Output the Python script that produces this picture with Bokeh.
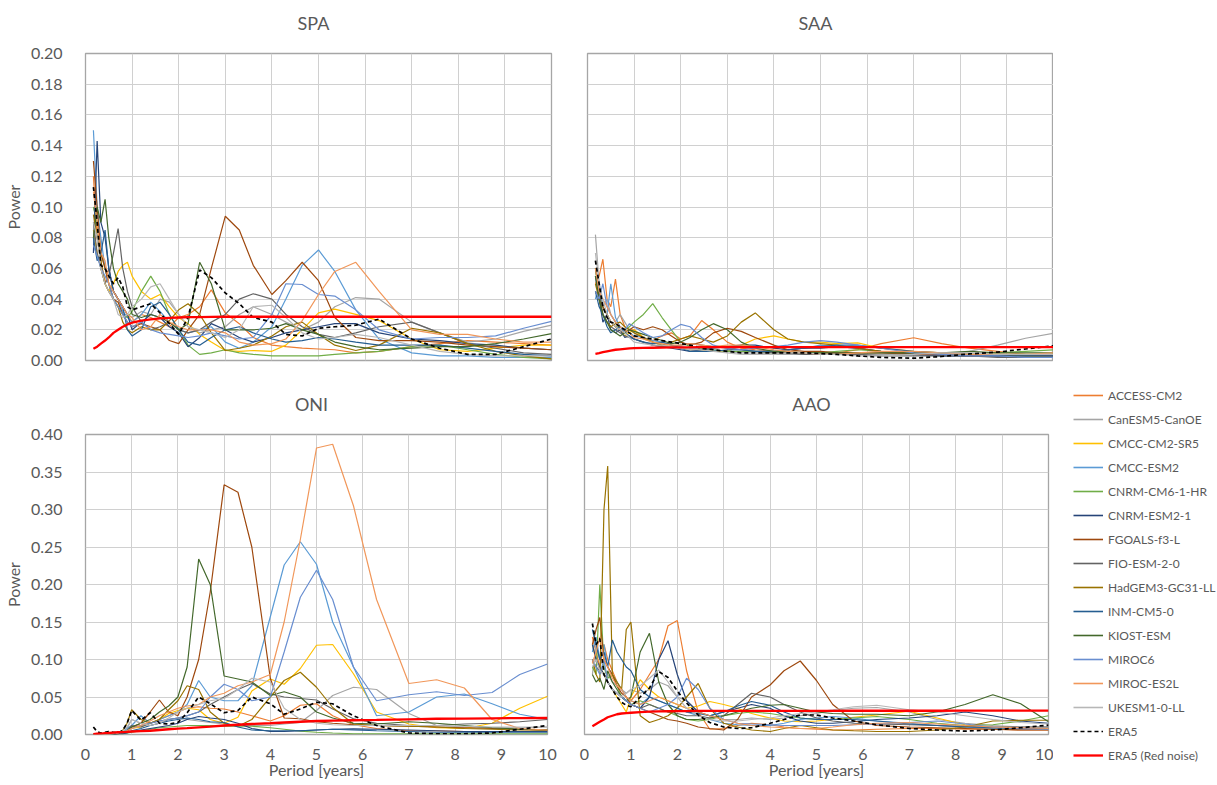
from bokeh.plotting import figure
from bokeh.models import Range1d, FixedTicker, NumeralTickFormatter, Legend, LegendItem
from bokeh.core.properties import value
from bokeh.layouts import row, column
from bokeh.embed import file_html
from bokeh.resources import INLINE

# ---------------- data ----------------
PERIOD = [0.17, 0.25, 0.33, 0.42, 0.5, 0.6, 0.7, 0.8, 0.9, 1.0,
          1.2, 1.4, 1.6, 1.8, 2.0, 2.2, 2.45, 2.7, 3.0, 3.3, 3.6,
          4.0, 4.3, 4.65, 5.0, 5.35, 5.8, 6.3, 7.0, 7.6, 8.2, 8.8, 9.4, 10.0]

MODELS = ["ACCESS-CM2", "CanESM5-CanOE", "CMCC-CM2-SR5", "CMCC-ESM2", "CNRM-CM6-1-HR",
          "CNRM-ESM2-1", "FGOALS-f3-L", "FIO-ESM-2-0", "HadGEM3-GC31-LL", "INM-CM5-0",
          "KIOST-ESM", "MIROC6", "MIROC-ES2L", "UKESM1-0-LL"]
COLORS = ["#ED7D31", "#A5A5A5", "#FFC000", "#5B9BD5", "#70AD47",
          "#264478", "#9E480E", "#636363", "#997300", "#255E91",
          "#43682B", "#698ED0", "#F1975A", "#B7B7B7"]

TITLES_TOP = ["SPA", "SAA"]
TITLES_BOTTOM = ["ONI", "AAO"]
X_TICKS = [0, 1, 2, 3, 4, 5, 6, 7, 8, 9, 10]
Y_TICKS_TOP = [0.0, 0.02, 0.04, 0.06, 0.08, 0.10, 0.12, 0.14, 0.16, 0.18, 0.20]
Y_TICKS_BOTTOM = [0.0, 0.05, 0.10, 0.15, 0.20, 0.25, 0.30, 0.35, 0.40]

SPA = {
    "ACCESS-CM2": [0.12, 0.08, 0.065, 0.05, 0.06, 0.045, 0.04, 0.035, 0.03, 0.025, 0.03, 0.028, 0.025, 0.022, 0.028, 0.03, 0.035, 0.046, 0.031, 0.024, 0.015, 0.01, 0.009, 0.008, 0.0075, 0.007, 0.005, 0.006, 0.009, 0.011, 0.013, 0.012, 0.011, 0.01],
    "CanESM5-CanOE": [0.1, 0.09, 0.06, 0.05, 0.045, 0.04, 0.035, 0.03, 0.03, 0.028, 0.032, 0.03, 0.04, 0.038, 0.03, 0.022, 0.018, 0.02, 0.022, 0.03, 0.035, 0.03, 0.025, 0.02, 0.025, 0.035, 0.041, 0.04, 0.025, 0.018, 0.012, 0.014, 0.019, 0.023],
    "CMCC-CM2-SR5": [0.085, 0.07, 0.06, 0.05, 0.045, 0.05, 0.058, 0.062, 0.064, 0.055, 0.045, 0.04, 0.043, 0.035, 0.028, 0.024, 0.017, 0.012, 0.0065, 0.006, 0.0065, 0.006, 0.01, 0.02, 0.031, 0.0335, 0.03, 0.026, 0.014, 0.007, 0.006, 0.008, 0.01, 0.01],
    "MIROC6": [0.075, 0.068, 0.06, 0.055, 0.05, 0.04, 0.035, 0.03, 0.025, 0.022, 0.025, 0.02, 0.018, 0.017, 0.016, 0.015, 0.016, 0.018, 0.016, 0.014, 0.015, 0.03, 0.05, 0.0495, 0.043, 0.042, 0.033, 0.02, 0.014, 0.015, 0.015, 0.016, 0.021, 0.0255],
    "CNRM-CM6-1-HR": [0.1, 0.09, 0.07, 0.06, 0.05, 0.04, 0.035, 0.03, 0.028, 0.032, 0.045, 0.055, 0.045, 0.03, 0.02, 0.01, 0.004, 0.005, 0.007, 0.005, 0.004, 0.003, 0.003, 0.003, 0.003, 0.004, 0.005, 0.006, 0.009, 0.01, 0.007, 0.004, 0.002, 0.001],
    "CNRM-ESM2-1": [0.07, 0.143, 0.09, 0.08, 0.06, 0.045, 0.04, 0.035, 0.03, 0.02, 0.025, 0.03, 0.028, 0.022, 0.018, 0.009, 0.015, 0.024, 0.02, 0.015, 0.012, 0.015, 0.018, 0.02, 0.022, 0.024, 0.024, 0.018, 0.014, 0.013, 0.011, 0.01, 0.008, 0.007],
    "FGOALS-f3-L": [0.13, 0.1, 0.07, 0.06, 0.05, 0.04, 0.038, 0.03, 0.025, 0.022, 0.024, 0.022, 0.02, 0.013, 0.011, 0.02, 0.03, 0.06, 0.094, 0.085, 0.062, 0.043, 0.052, 0.064, 0.052, 0.028, 0.015, 0.013, 0.013, 0.012, 0.01, 0.009, 0.008, 0.007],
    "FIO-ESM-2-0": [0.09, 0.07, 0.06, 0.05, 0.055, 0.07, 0.086, 0.06, 0.045, 0.035, 0.025, 0.02, 0.022, 0.025, 0.02, 0.018, 0.02, 0.025, 0.03, 0.04, 0.0435, 0.04, 0.03, 0.022, 0.017, 0.015, 0.018, 0.022, 0.025, 0.018, 0.011, 0.008, 0.005, 0.004],
    "HadGEM3-GC31-LL": [0.095, 0.08, 0.065, 0.05, 0.045, 0.04, 0.035, 0.025, 0.02, 0.018, 0.022, 0.02, 0.02, 0.026, 0.033, 0.037, 0.03, 0.018, 0.0065, 0.008, 0.01, 0.016, 0.022, 0.025, 0.017, 0.01, 0.0065, 0.01, 0.021, 0.018, 0.011, 0.006, 0.003, 0.001],
    "INM-CM5-0": [0.08, 0.065, 0.07, 0.085, 0.06, 0.045, 0.04, 0.035, 0.02, 0.016, 0.02, 0.035, 0.038, 0.03, 0.02, 0.012, 0.01, 0.015, 0.02, 0.022, 0.018, 0.014, 0.012, 0.013, 0.015, 0.014, 0.012, 0.01, 0.01, 0.01, 0.008, 0.006, 0.004, 0.003],
    "KIOST-ESM": [0.08, 0.1, 0.09, 0.105, 0.08, 0.06, 0.05, 0.045, 0.04, 0.03, 0.028, 0.03, 0.028, 0.025, 0.02, 0.024, 0.064, 0.05, 0.02, 0.02, 0.02, 0.021, 0.024, 0.02, 0.017, 0.012, 0.009, 0.007, 0.008, 0.009, 0.009, 0.011, 0.014, 0.0175],
    "CMCC-ESM2": [0.15, 0.1, 0.08, 0.06, 0.05, 0.045, 0.04, 0.032, 0.028, 0.025, 0.03, 0.038, 0.032, 0.025, 0.02, 0.018, 0.02, 0.022, 0.012, 0.008, 0.012, 0.022, 0.04, 0.062, 0.072, 0.058, 0.033, 0.014, 0.005, 0.003, 0.003, 0.002, 0.002, 0.002],
    "MIROC-ES2L": [0.11, 0.09, 0.07, 0.065, 0.05, 0.045, 0.04, 0.035, 0.03, 0.028, 0.02, 0.022, 0.03, 0.025, 0.022, 0.02, 0.02, 0.02, 0.018, 0.012, 0.01, 0.011, 0.014, 0.026, 0.043, 0.058, 0.064, 0.045, 0.02, 0.017, 0.017, 0.014, 0.012, 0.012],
    "UKESM1-0-LL": [0.09, 0.08, 0.06, 0.05, 0.045, 0.04, 0.03, 0.028, 0.03, 0.035, 0.04, 0.048, 0.05, 0.04, 0.03, 0.022, 0.02, 0.018, 0.015, 0.02, 0.035, 0.036, 0.028, 0.018, 0.014, 0.015, 0.017, 0.015, 0.01, 0.006, 0.004, 0.003, 0.003, 0.003],
    "ERA5": [0.113, 0.09, 0.062, 0.06, 0.055, 0.05, 0.054, 0.048, 0.035, 0.033, 0.035, 0.037, 0.031, 0.024, 0.017, 0.028, 0.059, 0.054, 0.044, 0.037, 0.028, 0.025, 0.017, 0.016, 0.021, 0.022, 0.023, 0.027, 0.014, 0.008, 0.004, 0.004, 0.009, 0.014],
    "ERA5 (Red noise)": [0.0076, 0.009, 0.011, 0.013, 0.015, 0.018, 0.02, 0.022, 0.0235, 0.0246, 0.026, 0.0268, 0.0275, 0.0278, 0.028, 0.0282, 0.0283, 0.0284, 0.0285, 0.0285, 0.0285, 0.0285, 0.0285, 0.0285, 0.0285, 0.0285, 0.0285, 0.0285, 0.0285, 0.0285, 0.0285, 0.0285, 0.0285, 0.0285],
}

SAA = {
    "ACCESS-CM2": [0.05, 0.055, 0.066, 0.04, 0.035, 0.053, 0.03, 0.022, 0.02, 0.02, 0.015, 0.013, 0.016, 0.018, 0.014, 0.016, 0.026, 0.02, 0.012, 0.008, 0.007, 0.006, 0.005, 0.004, 0.004, 0.005, 0.007, 0.011, 0.0148, 0.011, 0.008, 0.006, 0.004, 0.003],
    "CanESM5-CanOE": [0.082, 0.05, 0.035, 0.04, 0.03, 0.025, 0.03, 0.025, 0.02, 0.018, 0.014, 0.012, 0.01, 0.009, 0.008, 0.007, 0.006, 0.006, 0.006, 0.005, 0.005, 0.004, 0.004, 0.004, 0.005, 0.005, 0.004, 0.004, 0.004, 0.004, 0.006, 0.01, 0.0145, 0.0178],
    "CMCC-CM2-SR5": [0.06, 0.045, 0.035, 0.03, 0.025, 0.022, 0.02, 0.016, 0.018, 0.02, 0.015, 0.012, 0.01, 0.009, 0.008, 0.007, 0.007, 0.006, 0.006, 0.01, 0.014, 0.016, 0.014, 0.012, 0.012, 0.011, 0.0115, 0.008, 0.006, 0.005, 0.004, 0.004, 0.004, 0.004],
    "CMCC-ESM2": [0.04, 0.05, 0.035, 0.03, 0.05, 0.028, 0.022, 0.02, 0.018, 0.016, 0.015, 0.013, 0.012, 0.01, 0.009, 0.008, 0.008, 0.007, 0.006, 0.006, 0.006, 0.006, 0.007, 0.008, 0.01, 0.009, 0.008, 0.006, 0.004, 0.003, 0.003, 0.003, 0.002, 0.002],
    "CNRM-CM6-1-HR": [0.06, 0.04, 0.035, 0.03, 0.025, 0.022, 0.022, 0.02, 0.022, 0.025, 0.03, 0.037, 0.028, 0.02, 0.012, 0.009, 0.008, 0.007, 0.006, 0.006, 0.006, 0.005, 0.005, 0.005, 0.005, 0.006, 0.007, 0.006, 0.005, 0.004, 0.004, 0.005, 0.006, 0.007],
    "CNRM-ESM2-1": [0.055, 0.04, 0.025, 0.03, 0.02, 0.018, 0.02, 0.015, 0.016, 0.014, 0.012, 0.01, 0.009, 0.008, 0.007, 0.006, 0.007, 0.008, 0.009, 0.01, 0.01, 0.008, 0.007, 0.008, 0.008, 0.009, 0.008, 0.006, 0.004, 0.003, 0.003, 0.003, 0.003, 0.003],
    "FGOALS-f3-L": [0.045, 0.04, 0.035, 0.03, 0.025, 0.022, 0.02, 0.018, 0.02, 0.022, 0.02, 0.022, 0.02, 0.016, 0.012, 0.01, 0.012, 0.018, 0.021, 0.019, 0.015, 0.01, 0.007, 0.006, 0.006, 0.005, 0.005, 0.005, 0.004, 0.004, 0.003, 0.003, 0.003, 0.003],
    "FIO-ESM-2-0": [0.06, 0.045, 0.03, 0.025, 0.022, 0.02, 0.018, 0.016, 0.015, 0.014, 0.012, 0.01, 0.009, 0.009, 0.01, 0.011, 0.01, 0.009, 0.008, 0.007, 0.006, 0.005, 0.005, 0.004, 0.004, 0.004, 0.004, 0.003, 0.003, 0.003, 0.003, 0.002, 0.002, 0.002],
    "HadGEM3-GC31-LL": [0.05, 0.04, 0.03, 0.025, 0.022, 0.024, 0.025, 0.022, 0.02, 0.018, 0.015, 0.012, 0.01, 0.012, 0.014, 0.016, 0.014, 0.012, 0.016, 0.025, 0.031, 0.02, 0.014, 0.012, 0.011, 0.01, 0.008, 0.006, 0.005, 0.005, 0.004, 0.004, 0.003, 0.002],
    "INM-CM5-0": [0.045, 0.035, 0.03, 0.022, 0.018, 0.02, 0.022, 0.018, 0.016, 0.014, 0.012, 0.011, 0.012, 0.01, 0.008, 0.006, 0.006, 0.006, 0.007, 0.007, 0.006, 0.006, 0.007, 0.008, 0.009, 0.01, 0.01, 0.008, 0.006, 0.005, 0.004, 0.003, 0.003, 0.003],
    "KIOST-ESM": [0.055, 0.04, 0.03, 0.025, 0.02, 0.018, 0.016, 0.018, 0.02, 0.019, 0.017, 0.015, 0.013, 0.011, 0.012, 0.015, 0.02, 0.024, 0.02, 0.012, 0.008, 0.006, 0.006, 0.005, 0.005, 0.005, 0.005, 0.005, 0.005, 0.005, 0.006, 0.005, 0.005, 0.005],
    "MIROC6": [0.045, 0.04, 0.05, 0.035, 0.03, 0.025, 0.022, 0.02, 0.024, 0.022, 0.018, 0.015, 0.016, 0.02, 0.0235, 0.022, 0.015, 0.01, 0.008, 0.007, 0.008, 0.009, 0.01, 0.012, 0.013, 0.012, 0.01, 0.008, 0.005, 0.004, 0.003, 0.003, 0.002, 0.002],
    "MIROC-ES2L": [0.06, 0.045, 0.04, 0.035, 0.03, 0.025, 0.022, 0.02, 0.018, 0.015, 0.014, 0.012, 0.011, 0.01, 0.01, 0.011, 0.01, 0.009, 0.01, 0.01, 0.009, 0.007, 0.006, 0.005, 0.004, 0.004, 0.005, 0.006, 0.006, 0.005, 0.004, 0.004, 0.004, 0.005],
    "UKESM1-0-LL": [0.07, 0.05, 0.04, 0.03, 0.025, 0.022, 0.02, 0.018, 0.015, 0.012, 0.011, 0.01, 0.01, 0.009, 0.008, 0.007, 0.007, 0.006, 0.005, 0.004, 0.004, 0.004, 0.005, 0.005, 0.004, 0.004, 0.003, 0.003, 0.004, 0.005, 0.005, 0.004, 0.004, 0.004],
    "ERA5": [0.065, 0.05, 0.035, 0.028, 0.025, 0.024, 0.022, 0.02, 0.018, 0.016, 0.015, 0.014, 0.013, 0.012, 0.011, 0.01, 0.008, 0.007, 0.006, 0.005, 0.005, 0.005, 0.005, 0.005, 0.0045, 0.004, 0.003, 0.002, 0.0015, 0.0026, 0.0043, 0.0055, 0.0075, 0.0095],
    "ERA5 (Red noise)": [0.0043, 0.0048, 0.0054, 0.006, 0.0065, 0.007, 0.0073, 0.0076, 0.0079, 0.008, 0.0082, 0.0083, 0.0084, 0.0085, 0.0086, 0.0086, 0.0087, 0.0087, 0.0087, 0.0087, 0.0087, 0.0087, 0.0087, 0.0087, 0.0087, 0.0087, 0.0087, 0.0087, 0.0087, 0.0087, 0.0087, 0.0087, 0.0087, 0.0087],
}

ONI = {
    "ACCESS-CM2": [0.001, 0.001, 0.001, 0.001, 0.001, 0.002, 0.002, 0.003, 0.005, 0.01, 0.012, 0.015, 0.02, 0.025, 0.03, 0.035, 0.037, 0.035, 0.034, 0.03, 0.025, 0.018, 0.025, 0.039, 0.041, 0.025, 0.013, 0.008, 0.005, 0.005, 0.004, 0.004, 0.004, 0.005],
    "CanESM5-CanOE": [0.001, 0.001, 0.001, 0.001, 0.001, 0.001, 0.002, 0.003, 0.008, 0.02, 0.015, 0.012, 0.015, 0.02, 0.022, 0.02, 0.018, 0.016, 0.014, 0.012, 0.012, 0.012, 0.014, 0.016, 0.032, 0.052, 0.063, 0.06, 0.028, 0.012, 0.01, 0.009, 0.009, 0.01],
    "CMCC-CM2-SR5": [0.0, 0.0, 0.0, 0.0, 0.001, 0.001, 0.002, 0.003, 0.005, 0.008, 0.01, 0.015, 0.02, 0.028, 0.032, 0.035, 0.033, 0.02, 0.015, 0.023, 0.058, 0.074, 0.067, 0.088, 0.119, 0.12, 0.081, 0.03, 0.014, 0.009, 0.008, 0.015, 0.035, 0.051],
    "MIROC6": [0.0, 0.0, 0.0, 0.0, 0.0, 0.001, 0.002, 0.003, 0.005, 0.008, 0.012, 0.015, 0.018, 0.02, 0.022, 0.025, 0.03, 0.05, 0.067, 0.06, 0.045, 0.05, 0.11, 0.183, 0.219, 0.18, 0.09, 0.045, 0.053, 0.057, 0.052, 0.056, 0.08, 0.094],
    "CNRM-CM6-1-HR": [0.0, 0.0, 0.0, 0.0, 0.0, 0.0, 0.001, 0.001, 0.002, 0.003, 0.005, 0.007, 0.009, 0.01, 0.011, 0.012, 0.012, 0.012, 0.011, 0.011, 0.011, 0.009, 0.007, 0.0045, 0.003, 0.002, 0.001, 0.001, 0.001, 0.001, 0.001, 0.001, 0.001, 0.001],
    "CNRM-ESM2-1": [0.0, 0.0, 0.0, 0.0, 0.0, 0.0, 0.001, 0.001, 0.002, 0.004, 0.006, 0.008, 0.01, 0.012, 0.015, 0.02, 0.024, 0.022, 0.02, 0.015, 0.008, 0.004, 0.004, 0.005, 0.006, 0.007, 0.0075, 0.007, 0.006, 0.005, 0.004, 0.004, 0.004, 0.004],
    "FGOALS-f3-L": [0.0, 0.0, 0.0, 0.0, 0.0, 0.001, 0.001, 0.002, 0.004, 0.01, 0.015, 0.03, 0.046, 0.03, 0.025, 0.05, 0.1, 0.19, 0.333, 0.323, 0.25, 0.075, 0.022, 0.021, 0.017, 0.015, 0.013, 0.012, 0.011, 0.01, 0.009, 0.008, 0.007, 0.006],
    "FIO-ESM-2-0": [0.0, 0.0, 0.0, 0.0, 0.0, 0.0, 0.001, 0.002, 0.005, 0.012, 0.01, 0.015, 0.018, 0.02, 0.022, 0.025, 0.03, 0.04, 0.05, 0.06, 0.068, 0.054, 0.05, 0.048, 0.046, 0.034, 0.021, 0.015, 0.012, 0.012, 0.014, 0.015, 0.017, 0.02],
    "HadGEM3-GC31-LL": [0.0, 0.0, 0.0, 0.0, 0.0, 0.001, 0.002, 0.005, 0.015, 0.033, 0.02, 0.015, 0.02, 0.033, 0.045, 0.065, 0.06, 0.03, 0.015, 0.011, 0.02, 0.05, 0.072, 0.083, 0.063, 0.036, 0.014, 0.012, 0.011, 0.01, 0.008, 0.007, 0.006, 0.006],
    "INM-CM5-0": [0.0, 0.0, 0.0, 0.0, 0.0, 0.001, 0.001, 0.002, 0.003, 0.005, 0.008, 0.012, 0.015, 0.018, 0.02, 0.022, 0.02, 0.017, 0.016, 0.01, 0.006, 0.005, 0.005, 0.005, 0.006, 0.007, 0.006, 0.005, 0.004, 0.003, 0.003, 0.003, 0.003, 0.003],
    "KIOST-ESM": [0.0, 0.0, 0.0, 0.0, 0.0, 0.001, 0.002, 0.003, 0.005, 0.01, 0.015, 0.02, 0.03, 0.038, 0.05, 0.09, 0.234, 0.2, 0.078, 0.074, 0.07, 0.052, 0.057, 0.05, 0.03, 0.022, 0.015, 0.014, 0.017, 0.015, 0.012, 0.009, 0.007, 0.006],
    "CMCC-ESM2": [0.0, 0.0, 0.0, 0.0, 0.0, 0.001, 0.002, 0.004, 0.008, 0.012, 0.025, 0.015, 0.02, 0.025, 0.03, 0.04, 0.072, 0.05, 0.045, 0.045, 0.065, 0.157, 0.226, 0.257, 0.227, 0.15, 0.09, 0.025, 0.03, 0.05, 0.054, 0.041, 0.027, 0.02],
    "MIROC-ES2L": [0.0, 0.0, 0.0, 0.0, 0.0, 0.001, 0.002, 0.003, 0.005, 0.008, 0.012, 0.018, 0.025, 0.03, 0.035, 0.038, 0.04, 0.05, 0.055, 0.065, 0.07, 0.08, 0.15, 0.26, 0.382, 0.387, 0.305, 0.18, 0.068, 0.073, 0.062, 0.02, 0.008, 0.006],
    "UKESM1-0-LL": [0.0, 0.0, 0.0, 0.0, 0.0, 0.001, 0.002, 0.004, 0.01, 0.02, 0.015, 0.012, 0.015, 0.022, 0.03, 0.035, 0.04, 0.045, 0.048, 0.06, 0.075, 0.07, 0.035, 0.02, 0.015, 0.013, 0.012, 0.012, 0.012, 0.012, 0.011, 0.01, 0.01, 0.01],
    "ERA5": [0.01, 0.004, 0.002, 0.003, 0.004, 0.003, 0.002, 0.005, 0.015, 0.032, 0.019, 0.029, 0.015, 0.014, 0.016, 0.029, 0.05, 0.041, 0.029, 0.032, 0.05, 0.041, 0.027, 0.034, 0.043, 0.041, 0.025, 0.012, 0.002, 0.001, 0.001, 0.002, 0.007, 0.012],
    "ERA5 (Red noise)": [0.0005, 0.001, 0.0013, 0.0017, 0.002, 0.0025, 0.003, 0.0033, 0.0036, 0.004, 0.0045, 0.005, 0.006, 0.007, 0.0078, 0.0085, 0.0095, 0.0105, 0.012, 0.013, 0.014, 0.015, 0.016, 0.017, 0.018, 0.0185, 0.019, 0.0195, 0.0203, 0.021, 0.0213, 0.0216, 0.0218, 0.022],
}

AAO = {
    "ACCESS-CM2": [0.13, 0.11, 0.09, 0.12, 0.1, 0.085, 0.07, 0.06, 0.05, 0.045, 0.06, 0.08, 0.1, 0.145, 0.152, 0.085, 0.03, 0.007, 0.008, 0.012, 0.015, 0.013, 0.01, 0.008, 0.007, 0.006, 0.006, 0.007, 0.008, 0.008, 0.007, 0.007, 0.006, 0.006],
    "CanESM5-CanOE": [0.08, 0.12, 0.1, 0.09, 0.08, 0.07, 0.065, 0.06, 0.055, 0.06, 0.055, 0.06, 0.07, 0.065, 0.05, 0.045, 0.03, 0.025, 0.02, 0.02, 0.022, 0.02, 0.022, 0.025, 0.028, 0.032, 0.035, 0.036, 0.03, 0.02, 0.015, 0.012, 0.01, 0.01],
    "CMCC-CM2-SR5": [0.12, 0.1, 0.09, 0.08, 0.07, 0.06, 0.05, 0.04, 0.03, 0.05, 0.073, 0.06, 0.05, 0.045, 0.04, 0.035, 0.038, 0.044, 0.04, 0.035, 0.028, 0.022, 0.018, 0.017, 0.018, 0.02, 0.023, 0.026, 0.031, 0.022, 0.013, 0.009, 0.008, 0.008],
    "CMCC-ESM2": [0.11, 0.13, 0.1, 0.12, 0.09, 0.08, 0.07, 0.06, 0.05, 0.045, 0.04, 0.05, 0.045, 0.04, 0.035, 0.03, 0.025, 0.02, 0.015, 0.013, 0.012, 0.012, 0.015, 0.02, 0.022, 0.024, 0.022, 0.018, 0.015, 0.012, 0.01, 0.008, 0.007, 0.007],
    "CNRM-CM6-1-HR": [0.09, 0.08, 0.2, 0.09, 0.075, 0.08, 0.065, 0.05, 0.045, 0.04, 0.045, 0.04, 0.035, 0.03, 0.025, 0.02, 0.018, 0.02, 0.025, 0.028, 0.03, 0.028, 0.025, 0.022, 0.02, 0.02, 0.022, 0.024, 0.02, 0.015, 0.012, 0.013, 0.018, 0.025],
    "CNRM-ESM2-1": [0.12, 0.1, 0.09, 0.08, 0.07, 0.06, 0.055, 0.05, 0.045, 0.04, 0.035, 0.05, 0.1, 0.125, 0.08, 0.045, 0.03, 0.025, 0.03, 0.035, 0.04, 0.035, 0.025, 0.018, 0.015, 0.015, 0.017, 0.02, 0.022, 0.025, 0.03, 0.025, 0.018, 0.015],
    "FGOALS-f3-L": [0.12, 0.14, 0.156, 0.1, 0.09, 0.08, 0.065, 0.055, 0.05, 0.04, 0.035, 0.03, 0.025, 0.02, 0.018, 0.015, 0.01, 0.008, 0.006, 0.02, 0.05, 0.066, 0.085, 0.098, 0.072, 0.04, 0.018, 0.012, 0.01, 0.009, 0.008, 0.007, 0.006, 0.006],
    "FIO-ESM-2-0": [0.1, 0.09, 0.085, 0.08, 0.07, 0.06, 0.055, 0.05, 0.045, 0.04, 0.035, 0.04, 0.035, 0.03, 0.028, 0.025, 0.025, 0.022, 0.025, 0.04, 0.055, 0.05, 0.04, 0.03, 0.022, 0.018, 0.015, 0.014, 0.013, 0.012, 0.011, 0.01, 0.01, 0.01],
    "HadGEM3-GC31-LL": [0.1, 0.08, 0.07, 0.3, 0.358, 0.08, 0.07, 0.06, 0.14, 0.15, 0.025, 0.016, 0.02, 0.025, 0.035, 0.05, 0.068, 0.035, 0.015, 0.01, 0.006, 0.004, 0.008, 0.012, 0.009, 0.006, 0.005, 0.004, 0.004, 0.006, 0.01, 0.018, 0.019, 0.019],
    "INM-CM5-0": [0.14, 0.12, 0.1, 0.11, 0.09, 0.126, 0.11, 0.1, 0.09, 0.085, 0.06, 0.05, 0.045, 0.04, 0.035, 0.03, 0.028, 0.025, 0.03, 0.038, 0.044, 0.039, 0.03, 0.022, 0.02, 0.02, 0.02, 0.018, 0.014, 0.012, 0.01, 0.009, 0.008, 0.008],
    "KIOST-ESM": [0.08, 0.07, 0.075, 0.06, 0.085, 0.07, 0.06, 0.05, 0.045, 0.05, 0.11, 0.135, 0.07, 0.04, 0.025, 0.02, 0.02, 0.022, 0.025, 0.03, 0.035, 0.039, 0.04, 0.035, 0.03, 0.028, 0.027, 0.027, 0.025, 0.03, 0.04, 0.053, 0.041, 0.017],
    "MIROC6": [0.1, 0.09, 0.08, 0.1, 0.07, 0.06, 0.055, 0.05, 0.045, 0.04, 0.035, 0.03, 0.035, 0.04, 0.05, 0.075, 0.06, 0.035, 0.02, 0.015, 0.014, 0.013, 0.012, 0.012, 0.012, 0.012, 0.013, 0.014, 0.016, 0.018, 0.014, 0.01, 0.008, 0.007],
    "MIROC-ES2L": [0.095, 0.11, 0.13, 0.1, 0.09, 0.075, 0.065, 0.06, 0.05, 0.045, 0.04, 0.045, 0.05, 0.045, 0.04, 0.035, 0.03, 0.025, 0.02, 0.015, 0.012, 0.01, 0.009, 0.008, 0.008, 0.01, 0.013, 0.015, 0.016, 0.014, 0.012, 0.01, 0.009, 0.008],
    "UKESM1-0-LL": [0.09, 0.1, 0.085, 0.08, 0.07, 0.06, 0.055, 0.05, 0.055, 0.06, 0.065, 0.075, 0.086, 0.07, 0.05, 0.035, 0.025, 0.02, 0.018, 0.018, 0.02, 0.022, 0.025, 0.028, 0.03, 0.033, 0.037, 0.039, 0.033, 0.03, 0.025, 0.02, 0.016, 0.014],
    "ERA5": [0.148, 0.12, 0.128, 0.08, 0.07, 0.06, 0.05, 0.043, 0.039, 0.037, 0.05, 0.062, 0.084, 0.076, 0.058, 0.042, 0.026, 0.016, 0.01, 0.008, 0.009, 0.015, 0.02, 0.026, 0.026, 0.022, 0.018, 0.013, 0.008, 0.006, 0.0045, 0.006, 0.009, 0.0125],
    "ERA5 (Red noise)": [0.011, 0.014, 0.017, 0.02, 0.023, 0.025, 0.027, 0.028, 0.0285, 0.029, 0.0298, 0.0304, 0.0308, 0.031, 0.0312, 0.0313, 0.0315, 0.0315, 0.0315, 0.0315, 0.0315, 0.0316, 0.0316, 0.0316, 0.0316, 0.0316, 0.0317, 0.0317, 0.0317, 0.0317, 0.0318, 0.0318, 0.0318, 0.0318],
}

# ---------------- styling / geometry ----------------
TEXT = "#595959"
FONT = "Lato"
HEADER_H = 43                      # title strip height
TITLE_Y = 22                       # title centre, px from the top of the strip
PANEL_TOP = 10                     # room above each frame for the top tick label
LEFT_W, LEFT_GAP = 80, 18          # left border of left panels, gap to the right panels
TOP_FW, TOP_FH = 466, 307
BOT_FW_L, BOT_FW_R, BOT_FH = 462, 464, 300


def series(vals):
    n = min(len(PERIOD), len(vals))
    return PERIOD[:n], vals[:n]


def header(titles, centres, width):
    """A thin strip holding the panel titles above a row of panels."""
    h = figure(width=width, height=HEADER_H, x_range=Range1d(0, width),
               y_range=Range1d(HEADER_H, 0), x_axis_location=None, y_axis_location=None,
               min_border=0, output_backend="svg", toolbar_location=None)
    h.outline_line_color = None
    h.xgrid.visible = False
    h.ygrid.visible = False
    h.text(x=centres, y=[TITLE_Y] * len(titles), text=titles,
           text_align="center", text_baseline="middle",
           text_font=value(FONT), text_font_size="18px", text_color=TEXT)
    return h


def make_panel(data, ymax, yticks, show_x, show_y, fw, fh, bl, br, bb):
    p = figure(frame_width=fw, frame_height=fh,
               x_range=Range1d(0, 10), y_range=Range1d(0, ymax),
               x_axis_location="below" if show_x else None,
               y_axis_location="left" if show_y else None,
               min_border_left=bl, min_border_right=br,
               min_border_top=PANEL_TOP, min_border_bottom=bb,
               output_backend="svg", toolbar_location=None)
    p.outline_line_color = "#A6A6A6"
    p.outline_line_width = 1.3
    p.xgrid.ticker = FixedTicker(ticks=X_TICKS)
    p.ygrid.ticker = FixedTicker(ticks=yticks)
    p.xgrid.grid_line_color = "#D0D0D0"
    p.ygrid.grid_line_color = "#D0D0D0"
    if show_x:
        ax = p.xaxis[0]
        ax.ticker = FixedTicker(ticks=X_TICKS)
        ax.axis_label = "Period [years]"
        ax.axis_line_color = None
        ax.major_tick_line_color = None
        ax.minor_tick_line_color = None
        ax.major_label_standoff = 8
        ax.axis_label_standoff = -3
        ax.major_label_text_font = FONT
        ax.major_label_text_font_size = "16px"
        ax.major_label_text_color = TEXT
        ax.axis_label_text_font = FONT
        ax.axis_label_text_font_size = "16px"
        ax.axis_label_text_font_style = "normal"
        ax.axis_label_text_color = TEXT
    if show_y:
        ay = p.yaxis[0]
        ay.ticker = FixedTicker(ticks=yticks)
        ay.formatter = NumeralTickFormatter(format="0.00")
        ay.axis_label = "Power"
        ay.axis_line_color = None
        ay.major_tick_line_color = None
        ay.minor_tick_line_color = None
        ay.major_label_standoff = 17
        ay.axis_label_standoff = 5
        ay.major_label_text_font = FONT
        ay.major_label_text_font_size = "16px"
        ay.major_label_text_color = TEXT
        ay.axis_label_text_font = FONT
        ay.axis_label_text_font_size = "16px"
        ay.axis_label_text_font_style = "normal"
        ay.axis_label_text_color = TEXT

    for name, color in zip(MODELS, COLORS):
        x, y = series(data[name])
        p.line(x, y, line_color=color, line_width=1.2)
    x, y = series(data["ERA5"])
    p.line(x, y, line_color="black", line_width=1.7, line_dash="4 3")
    x, y = series(data["ERA5 (Red noise)"])
    p.line(x, y, line_color="#FF0000", line_width=2.3)
    return p


p_spa = make_panel(SPA, 0.20, Y_TICKS_TOP, False, True, TOP_FW, TOP_FH, LEFT_W, LEFT_GAP, 21)
p_saa = make_panel(SAA, 0.20, Y_TICKS_TOP, False, False, TOP_FW, TOP_FH, LEFT_GAP, 0, 21)
p_oni = make_panel(ONI, 0.40, Y_TICKS_BOTTOM, True, True, BOT_FW_L, BOT_FH, LEFT_W, LEFT_GAP, 51)
p_aao = make_panel(AAO, 0.40, Y_TICKS_BOTTOM, True, False, BOT_FW_R, BOT_FH, LEFT_GAP + 1, 5, 51)

top_left_w = LEFT_W + TOP_FW + LEFT_GAP
hdr_top = header(TITLES_TOP,
                 [LEFT_W + TOP_FW / 2, top_left_w + LEFT_GAP + TOP_FW / 2],
                 top_left_w + LEFT_GAP + TOP_FW)
bot_left_w = LEFT_W + BOT_FW_L + LEFT_GAP
hdr_bot = header(TITLES_BOTTOM,
                 [LEFT_W + BOT_FW_L / 2, bot_left_w + LEFT_GAP + 1 + BOT_FW_R / 2],
                 top_left_w + LEFT_GAP + TOP_FW)

# ---------------- legend ----------------
# legend-only figure: the swatch lines sit outside the visible range
lg = figure(width=169, height=785, x_range=Range1d(0, 1), y_range=Range1d(0, 1),
            x_axis_location=None, y_axis_location=None, min_border=0,
            output_backend="svg", toolbar_location=None)
lg.outline_line_color = None
lg.xgrid.visible = False
lg.ygrid.visible = False
OFF_X = [5, 6]
OFF_Y = [5, 5]
items = []
for name, color in zip(MODELS, COLORS):
    r = lg.line(x=OFF_X, y=OFF_Y, line_color=color, line_width=1.6)
    items.append(LegendItem(label=name, renderers=[r]))
r = lg.line(x=OFF_X, y=OFF_Y, line_color="black", line_width=1.7, line_dash="4 3")
items.append(LegendItem(label="ERA5", renderers=[r]))
r = lg.line(x=OFF_X, y=OFF_Y, line_color="#FF0000", line_width=2.3)
items.append(LegendItem(label="ERA5 (Red noise)", renderers=[r]))

legend = Legend(items=items, location=(20, 20), orientation="vertical",
                border_line_color=None, background_fill_alpha=0,
                label_text_font=FONT, label_text_font_size="12px", label_text_color=TEXT,
                glyph_width=30, glyph_height=20, label_height=20, spacing=4,
                padding=0, margin=0, label_standoff=5)
lg.add_layout(legend)

layout = row(column(hdr_top, row(p_spa, p_saa), hdr_bot, row(p_oni, p_aao)), lg)

open("out.html", "w").write(file_html(layout, INLINE))
